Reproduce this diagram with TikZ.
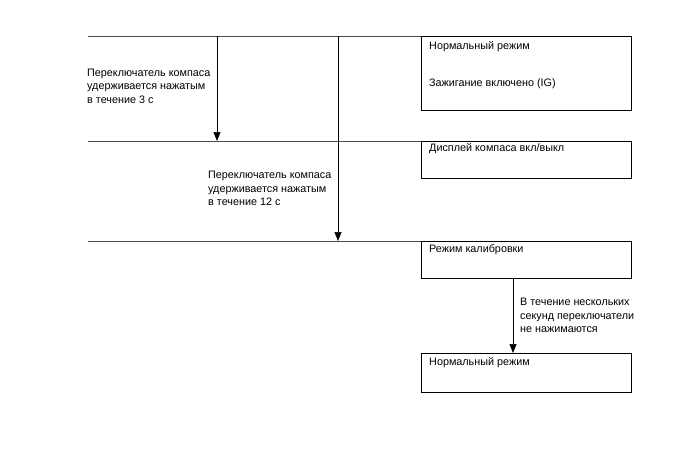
\documentclass[tikz,border=0pt]{standalone}
\usepackage{fontspec}
\setmainfont{Liberation Sans}
\usetikzlibrary{arrows.meta}

\begin{document}
\begin{tikzpicture}[x=1pt,y=-1pt,
    box/.style={draw,line width=1.3pt,minimum width=210pt,anchor=north west,inner sep=0pt},
    txt/.style={anchor=north west,align=left,inner sep=0pt,font=\fontsize{10.8}{13.6}\selectfont},
    rule/.style={draw=black!70,line width=0.7pt},
    flow/.style={draw,line width=0.7pt,-{Triangle[width=7pt,length=9pt]}}]
  \useasboundingbox (0,0) rectangle (688,463);

  %% Boxes
  \node[box,minimum height=74pt] (normal) at (421,36) {};
  \node[box,minimum height=37pt] (display) at (421,141) {};
  \node[box,minimum height=37pt] (calib) at (421,241) {};
  \node[box,minimum height=39pt] (normalb) at (421,353) {};

  \node[txt] (normaltxt) at (429,41) {Нормальный режим};
  \node[txt] (igntxt) at (429,78.5) {Зажигание включено (IG)};
  \node[txt] (displaytxt) at (429,143) {Дисплей компаса вкл/выкл};
  \node[txt] (calibtxt) at (429,244.5) {Режим калибровки};
  \node[txt] (normalbtxt) at (429,357) {Нормальный режим};

  %% Level lines
  \coordinate (l1) at (88,36);
  \coordinate (l2) at (88,141);
  \coordinate (l3) at (88,241);
  \draw[rule] (l1) -- (normal.north west);
  \draw[rule] (l2) -- (display.north west);
  \draw[rule] (l3) -- (calib.north west);

  %% Switch held
  \coordinate (a1) at (217,36);
  \coordinate (a2) at (217,141);
  \coordinate (b1) at (338,36);
  \coordinate (b2) at (338,241);
  \draw[flow] (a1) -- (a2);
  \draw[flow] (b1) -- (b2);
  \node[txt] (hold3) at (87,68.5) {Переключатель компаса\\удерживается нажатым\\в течение 3 с};
  \node[txt] (hold12) at (208,171) {Переключатель компаса\\удерживается нажатым\\в течение 12 с};

  %% Timeout
  \draw[flow] (calib.south -| 513,0) -- (normalb.north -| 513,0);
  \node[txt] (idle) at (520,298) {В течение нескольких\\секунд переключатели\\не нажимаются};
\end{tikzpicture}
\end{document}
